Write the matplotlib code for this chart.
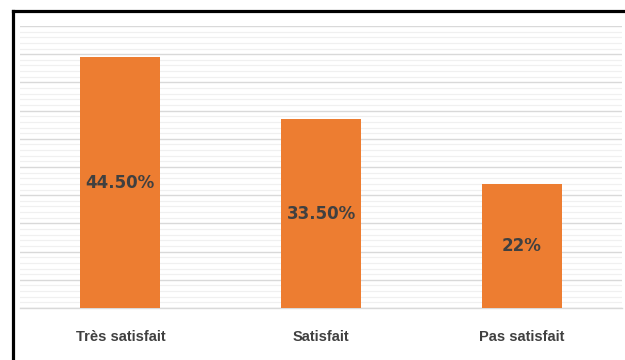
import matplotlib
matplotlib.use("Agg")
import matplotlib.pyplot as plt
from matplotlib.ticker import MultipleLocator
from matplotlib.lines import Line2D

categories = ["Très satisfait", "Satisfait", "Pas satisfait"]
values = [44.5, 33.5, 22]
value_labels = ["44.50%", "33.50%", "22%"]

W, H = 625, 360
fig = plt.figure(figsize=(W / 100, H / 100), dpi=100)
ax = fig.add_axes([20 / W, 1 - 308 / H, (622 - 20) / W, (308 - 26) / H])

x = list(range(len(categories)))
ax.bar(x, values, width=0.4, color="#ED7D31", zorder=3)
ax.set_xlim(-0.5, 2.5)
ax.set_ylim(0, 50)

ax.yaxis.set_major_locator(MultipleLocator(5))
ax.yaxis.set_minor_locator(MultipleLocator(1))
ax.grid(axis="y", which="major", color="#D9D9D9", linewidth=1.0, zorder=0)
ax.grid(axis="y", which="minor", color="#F0F0F0", linewidth=0.9, zorder=0)
ax.tick_params(axis="y", which="both", left=False, labelleft=False)
ax.tick_params(axis="x", length=0, pad=16)
for s in ["top", "right", "left"]:
    ax.spines[s].set_visible(False)
ax.spines["bottom"].set_color("#D9D9D9")
ax.spines["bottom"].set_linewidth(1.0)

ax.set_xticks(x)
ax.set_xticklabels(categories, fontsize=10.5, fontweight="bold", color="#404040",
                   family=["Liberation Sans Narrow", "Liberation Sans", "DejaVu Sans"])

for xi, v, lab in zip(x, values, value_labels):
    ax.text(xi, v / 2, lab, ha="center", va="center", fontsize=12,
            fontweight="bold", color="#404040", zorder=4)

# outer frame (top and left only)
fig.add_artist(Line2D([12.5 / W, 1.0], [1 - 10.5 / H, 1 - 10.5 / H],
                      transform=fig.transFigure, color="black", linewidth=2.3))
fig.add_artist(Line2D([12.5 / W, 12.5 / W], [1 - 10.5 / H, 0.0],
                      transform=fig.transFigure, color="black", linewidth=2.3))

fig.savefig("out.png", dpi=100, facecolor="white")
